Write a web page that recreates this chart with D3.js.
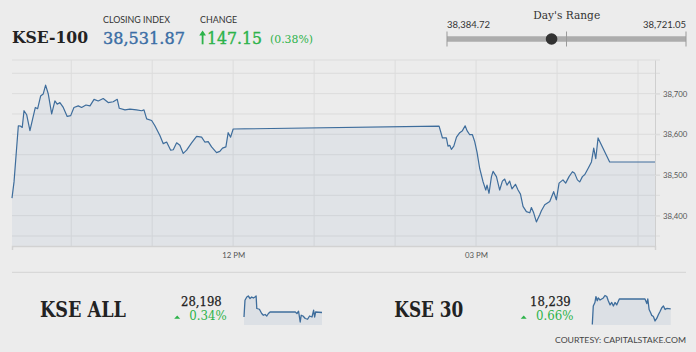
<!DOCTYPE html>
<html>
<head>
<meta charset="utf-8">
<script src="https://cdn.jsdelivr.net/npm/d3@7"></script>
<style>
  body { margin: 0; background: #ececec; }
  svg { display: block; }
</style>
</head>
<body>
<div id="chart"></div>
<script>
const width = 696
const height = 352

// KSE-100 intraday (time, index)
const kseTimes = ["09:16:06","09:17:36","09:19:06","09:20:48","09:22:30","09:23:42","09:25:00","09:27:00","09:29:24","09:31:24",
  "09:33:24","09:35:06","09:37:18","09:39:12","09:41:00","09:43:00","09:45:30","09:47:54","09:49:36","09:51:36",
  "09:54:06","09:57:00","09:59:36","10:02:00","10:05:12","10:07:42","10:10:54","10:13:54","10:16:54","10:20:00",
  "10:23:42","10:27:24","10:31:06","10:34:06","10:35:36","10:39:48","10:43:30","10:48:24","10:52:12","10:53:54",
  "10:55:54","10:59:36","11:02:00","11:05:42","11:08:12","11:10:42","11:13:42","11:15:36","11:18:06","11:20:30",
  "11:23:00","11:25:30","11:29:12","11:32:54","11:36:36","11:39:00","11:41:30","11:44:00","11:47:42","11:50:06",
  "11:52:06","11:54:36","11:56:18","11:58:06","12:00:00","14:32:36","14:35:06","14:38:00","14:39:12","14:40:30",
  "14:41:42","14:43:30","14:45:30","14:47:54","14:49:54","14:51:54","14:53:18","14:55:18","14:57:18","14:59:00",
  "15:00:42","15:02:42","15:05:12","15:07:12","15:08:06","15:09:36","15:11:24","15:12:36","15:15:06","15:17:30",
  "15:19:30","15:21:12","15:22:54","15:24:54","15:26:36","15:29:12","15:31:06","15:32:54","15:34:48","15:37:18",
  "15:39:48","15:41:00","15:42:42","15:44:42","15:47:12","15:48:24","15:50:54","15:54:36","15:57:30","15:59:30",
  "16:01:30","16:04:24","16:06:24","16:08:54","16:11:24","16:13:06","16:15:06","16:16:48","16:18:48","16:20:36",
  "16:23:00","16:25:30","16:27:12","16:28:42","16:30:24","16:39:00","17:12:36"]
const kseValues = [38443,38483,38548,38621,38620,38617,38658,38648,38609,38638,
  38666,38663,38694,38699,38721.05,38699,38650,38682,38674,38678,
  38666,38644,38646,38666,38670,38666,38672,38670,38686,38682,
  38688,38678,38680,38686,38664,38660,38662,38660,38658,38660,
  38638,38634,38621,38597,38577,38581,38561,38562,38579,38573,
  38553,38561,38579,38595,38593,38581,38582,38569,38555,38558,
  38566,38569,38604,38593,38613,38620,38591,38591,38571,38573,
  38563,38571,38593,38604,38609,38621,38609,38599,38599,38582,
  38556,38516,38483,38463,38475,38455,38496,38509,38496,38463,
  38485,38490,38475,38485,38466,38477,38463,38453,38423,38410,
  38407,38420,38407,38384.72,38402,38412,38427,38435,38459,38439,
  38480,38488,38480,38496,38508,38504,38488,38483,38496,38501,
  38516,38532,38566,38540,38591,38531.87,38531.87]

const yTicks = [38400, 38500, 38600, 38700]
const yGrid = [38350, 38400, 38450, 38500, 38550, 38600, 38650, 38700, 38750]

const closingIndex = "38,531.87"
const changeValue = "147.15"
const changePct = "(0.38%)"
const dayLow = 38384.72
const dayHigh = 38721.05
const dayClose = 38531.87

// KSE ALL sparkline
const allTimes = ["09:16","09:22","09:33","09:42","09:53","10:03","10:13","10:23","10:30","10:34",
  "10:50","11:04","11:14","11:25","11:35","11:45","11:55","14:29","14:39","14:49",
  "14:59","15:05","15:16","15:30","15:44","15:56","16:11","16:21","16:27","16:33","17:12"]
const allValues = [28180,28247,28260,28264,28254,28260,28256,28260,28264,28214,
  28211,28194,28187,28190,28184,28194,28200,28200,28194,28203,
  28160,28187,28184,28174,28171,28184,28180,28207,28180,28200,28198]

// KSE 30 sparkline
const k30Times = ["09:16","09:22","09:32","09:38","09:46","09:52","10:03","10:13","10:23","10:33",
  "10:44","10:53","11:04","11:14","11:24","11:34","11:44","12:00","14:36","14:47",
  "14:53","15:01","15:11","15:17","15:27","15:37","15:48","15:57","16:08","16:18",
  "16:28","16:38","16:48","17:12"]
const k30Values = [18194,18247,18257,18274,18262,18270,18264,18267,18270,18277,
  18274,18262,18250,18257,18247,18257,18250,18267,18267,18254,
  18267,18237,18227,18220,18217,18204,18212,18222,18232,18242,
  18247,18237,18240,18239]

const subNames = ["KSE ALL", "KSE 30"]
const subLast = ["28,198", "18,239"]
const subPct = ["0.34%", "0.66%"]

const blue = "#3e6d9c"
const green = "#2db34a"
const serif = "'DejaVu Serif', serif"
const sans = "Lato, 'Open Sans', sans-serif"

const svg = d3.select("#chart")
  .append("svg")
    .attr("width", width)
    .attr("height", height)

svg.append("rect").attr("width", width).attr("height", height).attr("fill", "#ececec")

// ---------- header ----------
svg.append("text")
  .attr("x", 12).attr("y", 43)
  .attr("font-family", serif).attr("font-weight", "bold").attr("font-size", 17)
  .attr("textLength", 76).attr("lengthAdjust", "spacingAndGlyphs")
  .attr("fill", "#222")
  .text("KSE-100")

svg.append("text")
  .attr("x", 103).attr("y", 23.3)
  .attr("font-family", sans).attr("font-size", 8.6).attr("fill", "#333")
  .attr("textLength", 67).attr("lengthAdjust", "spacingAndGlyphs")
  .text("CLOSING INDEX")

svg.append("text")
  .attr("x", 103).attr("y", 44.2)
  .attr("font-family", serif).attr("font-size", 17.3).attr("fill", "#3b6ea5")
  .attr("stroke", "#3b6ea5").attr("stroke-width", 0.4)
  .attr("textLength", 82).attr("lengthAdjust", "spacingAndGlyphs")
  .text(closingIndex)

svg.append("text")
  .attr("x", 200).attr("y", 23.3)
  .attr("font-family", sans).attr("font-size", 8.6).attr("fill", "#333")
  .attr("textLength", 37).attr("lengthAdjust", "spacingAndGlyphs")
  .text("CHANGE")

// up arrow
svg.append("path")
  .attr("d", "M202.6,44.3 V32.5")
  .attr("stroke", green).attr("stroke-width", 1.8)
svg.append("path")
  .attr("d", "M199.2,35.5 L202.6,30.4 L206,35.5 Z")
  .attr("fill", green)

svg.append("text")
  .attr("x", 207).attr("y", 44.2)
  .attr("font-family", serif).attr("font-size", 17.3).attr("fill", green)
  .attr("stroke", green).attr("stroke-width", 0.4)
  .attr("textLength", 55).attr("lengthAdjust", "spacingAndGlyphs")
  .text(changeValue)

svg.append("text")
  .attr("x", 270).attr("y", 43)
  .attr("font-family", serif).attr("font-size", 11.5).attr("fill", green)
  .attr("textLength", 43).attr("lengthAdjust", "spacingAndGlyphs")
  .text(changePct)

// day's range
const rangeX = d3.scaleLinear().domain([dayLow, dayHigh]).range([447, 686])
const fmt2 = d3.format(",.2f")

svg.append("text")
  .attr("x", 566.7).attr("y", 19.3).attr("text-anchor", "middle")
  .attr("font-family", serif).attr("font-size", 11.5).attr("fill", "#333")
  .attr("textLength", 67).attr("lengthAdjust", "spacingAndGlyphs")
  .text("Day's Range")

svg.append("text")
  .attr("x", 447).attr("y", 28.3)
  .attr("font-family", sans).attr("font-size", 9.5).attr("fill", "#333")
  .text(fmt2(dayLow))
svg.append("text")
  .attr("x", 686).attr("y", 28.3).attr("text-anchor", "end")
  .attr("font-family", sans).attr("font-size", 9.5).attr("fill", "#333")
  .text(fmt2(dayHigh))

svg.append("line")
  .attr("x1", rangeX(dayLow)).attr("x2", rangeX(dayHigh))
  .attr("y1", 39).attr("y2", 39)
  .attr("stroke", "#acacac").attr("stroke-width", 5.5)

svg.selectAll(".rtick")
  .data([dayLow, (dayLow + dayHigh) / 2, dayHigh])
  .join("line")
    .attr("class", "rtick")
    .attr("x1", d => rangeX(d)).attr("x2", d => rangeX(d))
    .attr("y1", 31.5).attr("y2", 46.5)
    .attr("stroke", "#9a9a9a").attr("stroke-width", 1)

svg.append("circle")
  .attr("cx", rangeX(dayClose)).attr("cy", 39).attr("r", 5.8)
  .attr("fill", "#333")

// ---------- main chart ----------
const parseTime = d3.timeParse("%H:%M:%S")
const kse = kseTimes.map((t, i) => ({ t: parseTime(t), v: kseValues[i] }))

const x = d3.scaleTime()
  .domain(d3.extent(kse, d => d.t))
  .range([12, 655])
const y = d3.scaleLinear()
  .domain([38325.4, 38782.7])
  .range([246, 60])

const grid = svg.append("g")

grid.selectAll(".hg")
  .data(yGrid)
  .join("line")
    .attr("x1", 12).attr("x2", 660)
    .attr("y1", d => y(d)).attr("y2", d => y(d))
    .attr("stroke", "#dcdcdc").attr("stroke-width", 1)

grid.append("line")
  .attr("x1", 12).attr("x2", 660)
  .attr("y1", 60).attr("y2", 60)
  .attr("stroke", "#dcdcdc")

grid.selectAll(".vg")
  .data(x.ticks(d3.timeHour.every(1)))
  .join("line")
    .attr("x1", d => x(d)).attr("x2", d => x(d))
    .attr("y1", 60).attr("y2", 246)
    .attr("stroke", "#dcdcdc").attr("stroke-width", 1)

const area = d3.area()
  .x(d => x(d.t))
  .y0(246)
  .y1(d => y(d.v))

const line = d3.line()
  .x(d => x(d.t))
  .y(d => y(d.v))

svg.append("path")
  .datum(kse)
  .attr("d", area)
  .attr("fill", "#4a78a8")
  .attr("fill-opacity", 0.07)

svg.append("path")
  .datum(kse)
  .attr("d", line)
  .attr("fill", "none")
  .attr("stroke", blue)
  .attr("stroke-width", 1.2)
  .attr("stroke-linejoin", "round")

// x axis
const xAxis = svg.append("g")
  .attr("transform", "translate(0,246)")
  .call(d3.axisBottom(x)
    .ticks(d3.timeHour.every(3))
    .tickFormat(d3.timeFormat("%I %p"))
    .tickSizeInner(0)
    .tickSizeOuter(4)
    .tickPadding(6.5))
xAxis.select(".domain").attr("stroke", "#d2d2d2").attr("stroke-width", 1.5)
xAxis.selectAll("text")
  .attr("font-family", sans).attr("font-size", 7.8).attr("fill", "#555")

// y axis
const yAxis = svg.append("g")
  .attr("transform", "translate(655,0)")
  .call(d3.axisRight(y)
    .tickValues(yTicks)
    .tickFormat(d3.format(","))
    .tickSize(5)
    .tickSizeOuter(0)
    .tickPadding(3))
yAxis.select(".domain").attr("stroke", "#cfcfcf")
yAxis.selectAll(".tick line").attr("stroke", "#dcdcdc")
yAxis.selectAll("text")
  .attr("font-family", sans).attr("font-size", 7.8).attr("fill", "#555")

// ---------- bottom: sub indices ----------
svg.append("line")
  .attr("x1", 12).attr("x2", 686)
  .attr("y1", 272.3).attr("y2", 272.3)
  .attr("stroke", "#d4d4d4").attr("stroke-width", 1)

const parseHM = d3.timeParse("%H:%M")
const sparks = [
  { data: allTimes.map((t, i) => ({ t: parseHM(t), v: allValues[i] })), x0: 244, x1: 322, dom: [28150, 28266] },
  { data: k30Times.map((t, i) => ({ t: parseHM(t), v: k30Values[i] })), x0: 592.3, x1: 670.7, dom: [18194, 18277] }
]
const nameX = [40, 394.3]
const nameW = [86, 69]
const lastX = [181, 530]
const pctX = [189.3, 536]
const triX = [177.2, 523.7]

sparks.forEach((s, i) => {
  svg.append("text")
    .attr("x", nameX[i]).attr("y", 316.8)
    .attr("font-family", serif).attr("font-weight", "bold").attr("font-size", 22)
    .attr("textLength", nameW[i]).attr("lengthAdjust", "spacingAndGlyphs")
    .attr("fill", "#222")
    .text(subNames[i])

  svg.append("text")
    .attr("x", lastX[i]).attr("y", 305.8)
    .attr("font-family", serif).attr("font-size", 12.4).attr("fill", "#222")
    .attr("stroke", "#222").attr("stroke-width", 0.25)
    .attr("textLength", 40.7).attr("lengthAdjust", "spacingAndGlyphs")
    .text(subLast[i])

  svg.append("path")
    .attr("d", `M${triX[i] - 3},318.8 L${triX[i]},315.4 L${triX[i] + 3},318.8 Z`)
    .attr("fill", green)

  svg.append("text")
    .attr("x", pctX[i]).attr("y", 320.2)
    .attr("font-family", serif).attr("font-size", 12.4).attr("fill", green)
    .attr("textLength", 37.5).attr("lengthAdjust", "spacingAndGlyphs")
    .text(subPct[i])

  const sx = d3.scaleTime()
    .domain(d3.extent(s.data, d => d.t))
    .range([s.x0, s.x1])
  const sy = d3.scaleLinear()
    .domain(s.dom)
    .range([324.5, 295.5])

  svg.append("path")
    .datum(s.data)
    .attr("d", d3.area().x(d => sx(d.t)).y0(325).y1(d => sy(d.v)))
    .attr("fill", "#4a78a8")
    .attr("fill-opacity", 0.1)

  svg.append("path")
    .datum(s.data)
    .attr("d", d3.line().x(d => sx(d.t)).y(d => sy(d.v)))
    .attr("fill", "none")
    .attr("stroke", blue)
    .attr("stroke-width", 1.3)
    .attr("stroke-linejoin", "round")
})

svg.append("text")
  .attr("x", 686).attr("y", 343.3).attr("text-anchor", "end")
  .attr("font-family", sans).attr("font-size", 8.3).attr("fill", "#444")
  .attr("textLength", 131).attr("lengthAdjust", "spacingAndGlyphs")
  .text("COURTESY: CAPITALSTAKE.COM")
</script>
</body>
</html>
